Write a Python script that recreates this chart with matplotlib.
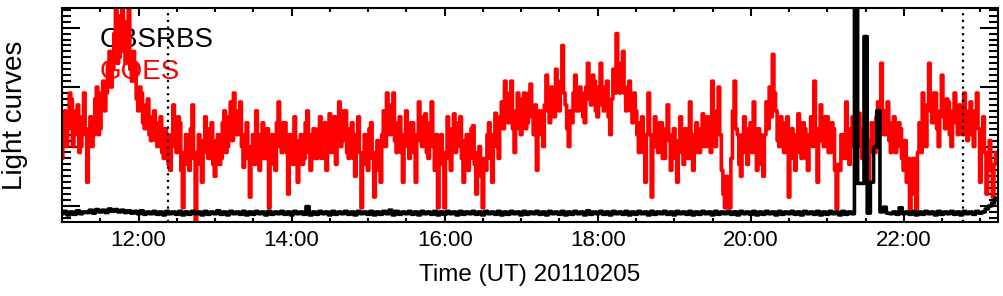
import numpy as np
import matplotlib
matplotlib.use('Agg')
import matplotlib.pyplot as plt
from matplotlib.ticker import MultipleLocator, FuncFormatter, NullFormatter

plt.rcParams['font.family'] = ['Liberation Sans', 'DejaVu Sans']

# hours UT; GOES sampled every 1.25 min, CBSRBS every 2.5 min, both from 11:00
t_start = 11.0
goes_step = 1.25 / 60.0
cbs_step = 2.5 / 60.0

goes = [
    1.8, 2.2, 2.6, 2.0, 2.3, 2.9, 2.8, 2.0, 2.2, 2.6, 2.7, 1.9, 2.0, 2.5, 2.9, 2.2, 1.4, 2.3, 2.5, 2.0,
    2.2, 2.8, 3.0, 2.2, 2.3, 2.9, 3.1, 2.6, 2.9, 3.4, 3.6, 3.0, 3.3, 3.9, 4.5, 3.4, 3.5, 4.2, 4.5, 3.6,
    3.4, 4.1, 4.5, 3.3, 3.1, 3.6, 3.4, 2.8, 2.6, 3.0, 2.9, 2.4, 2.3, 2.7, 2.8, 2.2, 2.1, 2.5, 2.6, 2.1,
    2.0, 2.4, 2.5, 1.9, 1.8, 2.3, 2.2, 1.7, 1.6, 2.2, 2.7, 2.0, 1.9, 2.5, 2.4, 1.6, 0.97, 1.9, 2.2, 1.7,
    1.6, 2.3, 2.7, 1.8, 0.7, 1.9, 2.2, 1.7, 1.4, 2.1, 2.5, 1.9, 1.8, 2.3, 2.4, 1.7, 1.5, 2.1, 2.2, 1.7,
    1.8, 2.4, 2.6, 1.9, 2.0, 2.5, 2.75, 2.1, 2.9, 2.3, 2.2, 2.6, 2.75, 2.0, 1.65, 2.2, 2.4, 1.8, 1.15, 2.0,
    2.2, 1.7, 2.6, 2.1, 1.6, 2.2, 2.4, 1.8, 1.8, 2.3, 0.97, 1.8, 2.2, 1.7, 1.6, 2.4, 2.75, 2.0, 1.9, 2.4,
    2.4, 1.9, 1.2, 2.2, 2.0, 1.7, 2.5, 2.0, 1.4, 2.1, 2.2, 1.7, 1.8, 2.4, 2.6, 1.9, 1.6, 2.2, 2.3, 1.8,
    1.8, 2.3, 2.5, 1.8, 2.0, 2.4, 1.6, 2.2, 2.55, 1.9, 2.2, 2.5, 1.7, 2.2, 2.75, 2.0, 2.1, 2.6, 2.6, 1.9,
    1.8, 2.3, 2.4, 1.8, 1.5, 2.2, 2.5, 1.9, 0.97, 1.8, 2.2, 1.7, 1.6, 2.3, 2.4, 1.8, 1.15, 1.9, 2.1, 1.6,
    1.4, 2.2, 2.6, 2.0, 2.9, 2.3, 2.2, 2.7, 2.9, 2.1, 1.9, 2.4, 2.5, 1.9, 1.4, 2.2, 2.6, 2.0, 1.8, 2.4,
    2.4, 1.9, 1.4, 2.2, 2.75, 2.1, 2.0, 2.5, 2.55, 1.9, 1.8, 2.4, 2.75, 2.0, 1.6, 2.2, 0.97, 1.8, 2.2, 1.7,
    0.97, 1.9, 2.5, 1.8, 1.6, 2.3, 2.55, 1.9, 2.0, 2.4, 2.5, 1.8, 1.4, 2.1, 2.2, 1.6, 1.8, 2.3, 2.35, 1.7,
    1.2, 1.9, 2.0, 1.5, 0.97, 1.8, 1.6, 2.2, 2.4, 1.8, 1.4, 2.2, 2.56, 2.0, 1.8, 2.5, 2.75, 2.3, 3.1, 2.6,
    2.4, 2.9, 3.1, 2.3, 1.9, 2.6, 2.9, 2.3, 2.2, 2.8, 2.9, 2.3, 2.4, 2.9, 3.05, 2.5, 2.2, 2.7, 1.6, 2.3,
    2.6, 2.2, 2.0, 2.7, 3.2, 2.6, 2.4, 3.0, 2.9, 2.5, 3.3, 2.8, 2.6, 3.1, 3.7, 2.9, 2.7, 2.3, 2.0, 2.6,
    2.4, 2.9, 3.2, 2.6, 2.6, 3.0, 2.9, 2.5, 2.4, 3.0, 3.4, 2.8, 2.7, 3.2, 3.1, 2.6, 2.5, 3.0, 3.4, 2.7,
    2.6, 3.0, 3.1, 2.5, 2.2, 2.8, 3.3, 2.9, 3.9, 3.3, 2.9, 3.4, 3.6, 2.9, 2.6, 3.0, 3.1, 2.6, 2.4, 2.9,
    2.6, 2.2, 1.9, 2.4, 2.5, 1.9, 1.4, 2.2, 2.9, 2.2, 1.15, 2.0, 2.5, 2.0, 1.9, 2.4, 2.4, 1.8, 1.8, 2.3,
    2.7, 2.1, 1.6, 2.2, 2.3, 1.8, 1.4, 2.1, 2.5, 1.9, 1.7, 2.3, 2.2, 1.8, 2.75, 2.2, 1.6, 2.1, 2.4, 1.9,
    1.9, 2.3, 2.55, 2.0, 2.0, 2.5, 2.3, 1.9, 3.1, 2.4, 2.0, 2.6, 3.0, 2.2, 1.6, 1.2, 0.97, 1.5, 1.3, 0.97,
    1.8, 2.6, 3.1, 2.3, 2.2, 1.7, 1.5, 2.2, 2.5, 1.9, 1.7, 2.3, 2.4, 1.9, 2.75, 2.1, 1.6, 2.3, 2.2, 1.7,
    1.5, 2.2, 2.75, 2.3, 3.0, 2.5, 3.55, 2.9, 2.6, 2.1, 2.0, 2.5, 2.4, 1.9, 2.0, 2.5, 1.15, 1.9, 2.3, 1.8,
    1.6, 2.2, 2.55, 1.9, 1.8, 2.4, 2.3, 1.8, 1.6, 2.2, 2.5, 2.0, 3.1, 2.3, 1.4, 2.1, 2.7, 2.1, 2.0, 2.5,
    2.5, 1.9, 1.9, 2.4, 2.3, 1.6, 0.95, 1.7, 1.6, 2.2, 2.2, 1.8, 2.75, 2.2, 1.7, 2.3, 2.5, 2.0, 2.0, 2.4,
    2.56, 2.0, 1.8, 2.3, 2.2, 1.7, 1.4, 2.1, 2.4, 1.9, 1.9, 2.5, 2.75, 2.2, 3.4, 2.6, 2.2, 2.6, 2.75, 2.1,
    1.9, 2.4, 2.5, 1.9, 2.0, 2.4, 2.3, 1.8, 1.6, 2.1, 1.4, 1.8, 0.95, 1.5, 1.8, 1.2, 0.95, 1.9, 2.4, 1.9,
    2.9, 2.3, 2.0, 2.7, 3.4, 2.6, 2.4, 2.9, 2.9, 2.3, 2.0, 2.6, 3.2, 2.5, 2.3, 2.8, 2.75, 2.2, 2.0, 2.6,
    2.9, 2.4, 2.2, 2.7, 2.6, 2.2, 2.9, 2.3, 2.1, 2.6, 2.75, 2.2, 2.0, 2.6, 2.9, 2.3, 1.4, 2.0, 2.5, 1.9,
    1.2, 1.8, 2.1, 1.6, 1.15, 1.7, 1.9,
]

cbsrbs = [
    0.87, 0.91, 0.85, 0.90, 0.86, 0.92, 0.87, 0.90, 0.89, 0.93,
    0.88, 0.94, 0.90, 0.93, 0.89, 0.95, 0.91, 0.94, 0.90, 0.93,
    0.89, 0.92, 0.88, 0.91, 0.87, 0.92, 0.86, 0.90, 0.87, 0.91,
    0.86, 0.90, 0.85, 0.91, 0.87, 0.90, 0.86, 0.91, 0.85, 0.90,
    0.86, 0.91, 0.87, 0.90, 0.85, 0.91, 0.86, 0.90, 0.87, 0.92,
    0.86, 0.90, 0.85, 0.91, 0.87, 0.90, 0.86, 0.91, 0.85, 0.90,
    0.86, 0.91, 0.87, 0.90, 0.85, 0.91, 0.86, 0.90, 0.87, 0.91,
    0.86, 0.90, 0.85, 0.91, 0.87, 0.90, 0.86, 0.99, 0.85, 0.90,
    0.86, 0.91, 0.87, 0.90, 0.85, 0.91, 0.86, 0.90, 0.87, 0.91,
    0.86, 0.90, 0.85, 0.91, 0.87, 0.90, 0.86, 0.91, 0.85, 0.90,
    0.86, 0.91, 0.87, 0.93, 0.85, 0.91, 0.86, 0.90, 0.87, 0.91,
    0.86, 0.90, 0.85, 0.91, 0.87, 0.90, 0.86, 0.91, 0.85, 0.90,
    0.86, 0.91, 0.87, 0.90, 0.85, 0.91, 0.86, 0.90, 0.87, 0.91,
    0.86, 0.90, 0.85, 0.91, 0.87, 0.90, 0.86, 0.91, 0.85, 0.90,
    0.86, 0.91, 0.87, 0.90, 0.85, 0.91, 0.86, 0.90, 0.87, 0.91,
    0.86, 0.90, 0.85, 0.91, 0.87, 0.90, 0.86, 0.91, 0.85, 0.90,
    0.86, 0.91, 0.87, 0.90, 0.85, 0.92, 0.86, 0.90, 0.87, 0.91,
    0.86, 0.90, 0.85, 0.91, 0.87, 0.90, 0.86, 0.91, 0.85, 0.90,
    0.86, 0.91, 0.87, 0.90, 0.85, 0.91, 0.86, 0.90, 0.87, 0.91,
    0.86, 0.90, 0.85, 0.91, 0.87, 0.90, 0.86, 0.91, 0.85, 0.90,
    0.86, 0.91, 0.87, 0.90, 0.85, 0.91, 0.86, 0.90, 0.87, 0.91,
    0.86, 0.90, 0.85, 0.91, 0.87, 0.90, 0.86, 0.91, 0.85, 0.90,
    0.86, 0.91, 0.87, 0.90, 0.85, 0.91, 0.86, 0.90, 0.87, 0.91,
    0.86, 0.90, 0.85, 0.91, 0.87, 0.90, 0.86, 0.91, 0.85, 0.90,
    0.86, 0.91, 0.87, 0.90, 0.85, 0.91, 0.86, 0.90, 0.87, 4.50,
    1.38, 1.38, 3.85, 0.88, 1.40, 1.99, 2.60, 0.90, 0.98, 0.88,
    0.87, 0.90, 0.86, 0.97, 0.87, 0.90, 0.86, 0.91, 0.85, 0.90,
    0.86, 0.91, 0.87, 0.90, 0.85, 0.91, 0.86, 0.90, 0.87, 0.91,
    0.86, 0.90, 0.85, 0.91, 0.87, 0.90, 0.86, 0.91, 0.88, 0.90,
    0.95, 1.00, 1.05, 1.13,
]

marker_times = [12.38, 22.77]
xtick_hours = [12, 14, 16, 18, 20, 22]

t_goes = t_start + goes_step * np.arange(len(goes))
t_cbs = t_start + cbs_step * np.arange(len(cbsrbs))

fig = plt.figure(figsize=(10.04, 2.96), dpi=100)
ax = fig.add_axes([62 / 1004, 74 / 296, 936 / 1004, 214 / 296])

ax.text(11.49, 3.67, 'CBSRBS', color='black', fontsize=20, zorder=1)
ax.text(11.49, 3.13, 'GOES', color='red', fontsize=20, zorder=1)

ax.plot(t_cbs, cbsrbs, color='black', lw=2.6, drawstyle='steps-mid', zorder=3, snap=False)
ax.plot(t_goes, goes, color='red', lw=2.6, drawstyle='steps-mid', zorder=2, snap=False)

for mt in marker_times:
    ax.axvline(mt, color='black', lw=1.6, ls=(0, (1, 2)), zorder=4)

ax.set_xlim(11.0, 23.23)
ax.set_ylim(0.731, 4.33)

ax.set_xticks(xtick_hours)
ax.xaxis.set_major_formatter(FuncFormatter(lambda v, p: f'{int(v):02d}:00'))
ax.xaxis.set_minor_locator(MultipleLocator(0.5))
ax.yaxis.set_major_locator(MultipleLocator(1.0))
ax.yaxis.set_minor_locator(MultipleLocator(0.1))
ax.yaxis.set_major_formatter(NullFormatter())

ax.tick_params(axis='both', which='both', direction='in', top=True, right=True, width=1.5)
ax.tick_params(axis='x', which='major', length=6, labelsize=16, pad=6)
ax.tick_params(axis='x', which='minor', length=3)
ax.tick_params(axis='y', which='major', length=13)
ax.tick_params(axis='y', which='minor', length=6.5)
for s in ax.spines.values():
    s.set_linewidth(1.5)

ax.set_xlabel('Time (UT) 20110205', fontsize=17.5, labelpad=9)
ax.set_ylabel('Light curves', fontsize=20, labelpad=21)

fig.savefig('out.png', dpi=100)
